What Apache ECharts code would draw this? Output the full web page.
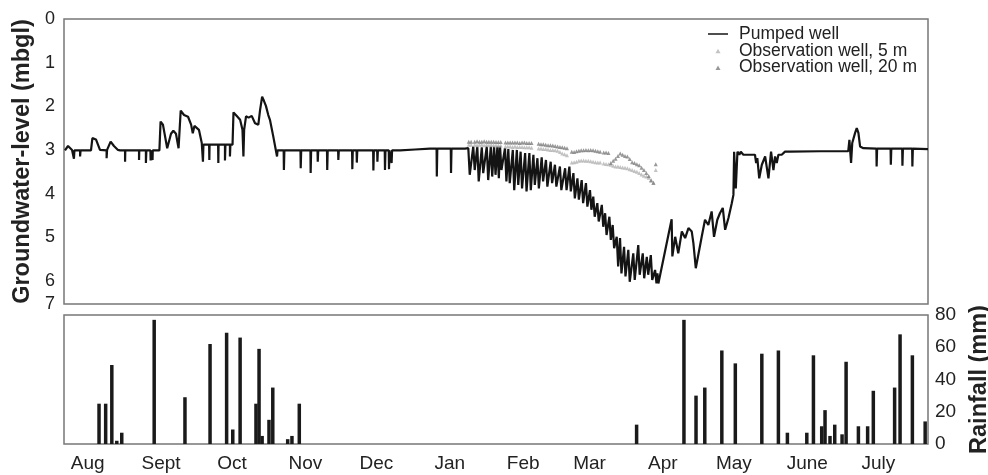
<!DOCTYPE html>
<html>
<head>
<meta charset="utf-8">
<script src="https://cdn.jsdelivr.net/npm/echarts@6/dist/echarts.min.js"></script>
<style>
html,body{margin:0;padding:0;background:#fff;}
#chart{width:988px;height:475px;}
</style>
</head>
<body>
<div id="chart"></div>
<script>
// x values are days since 22 July (start of record)
const monthStartDays = [10, 41, 71, 102, 132, 163, 194, 222, 253, 283, 314, 344];
const monthLabels = ['Aug', 'Sept', 'Oct', 'Nov', 'Dec', 'Jan', 'Feb', 'Mar', 'Apr', 'May', 'June', 'July'];

const levelTickValues = [0, 1, 2, 3, 4, 5, 6, 6.53];
const levelTickLabels = ['0', '1', '2', '3', '4', '5', '6', '7'];
const rainTicks = [0, 20, 40, 60, 80];

// Pumped well groundwater level [day, mbgl]
const pumpedWell = [
[0.4,3.01],[1.7,2.91],[2.5,2.88],[3.4,3.00],[4.0,3.01],[4.2,3.20],[4.4,3.01],
[6.8,3.01],[6.8,3.15],[7.0,3.01],
[11.4,3.01],[12.0,2.73],[13.5,2.76],[15.2,3.00],[15.6,3.02],
[18.0,3.01],[18.0,3.19],[18.2,3.00],[19.7,2.81],[21.1,2.91],[22.8,3.00],[23.7,3.01],
[25.8,3.01],[25.8,3.27],[25.9,3.01],
[31.7,3.01],[31.7,3.23],[31.8,3.01],
[34.6,3.01],[34.6,3.30],[34.8,3.01],
[36.5,3.01],[36.6,3.24],[36.8,3.01],
[37.4,3.01],[37.4,3.23],[37.5,3.01],
[40.3,3.01],[40.8,2.35],[41.8,2.42],[43.6,2.96],[45.2,2.63],[46.2,2.56],[47.3,2.63],[48.4,2.96],
[49.3,2.10],[50.7,2.20],[52.4,2.24],[53.7,2.42],[54.4,2.62],[55.1,2.45],[55.8,2.42],[57.0,2.54],[58.2,2.84],[58.5,2.88],
[58.7,3.27],[58.9,2.88],
[61.3,2.88],[61.4,3.23],[61.5,2.88],
[65.1,2.88],[65.2,3.30],[65.3,2.88],
[68.0,2.88],[68.0,3.24],[68.2,2.88],
[70.1,2.88],[70.1,3.15],[70.3,2.88],
[71.2,2.88],[71.6,2.14],[73.1,2.23],[74.4,2.31],[75.4,2.54],[75.8,3.15],[76.1,2.54],[76.9,2.23],[78.0,2.26],[79.3,2.22],
[80.7,2.39],[82.1,2.42],[82.8,2.10],[83.7,1.78],[84.5,1.88],[85.3,1.99],[86.3,2.20],[87.0,2.31],[88.4,2.69],[89.4,2.98],[90.0,3.15],[90.2,3.01],
[92.8,3.01],[92.9,3.46],[93.1,3.01],
[99.9,3.01],[100.0,3.42],[100.2,3.01],
[104.1,3.01],[104.2,3.53],[104.4,3.01],
[107.1,3.01],[107.2,3.27],[107.4,3.01],
[111.1,3.01],[111.2,3.46],[111.4,3.01],
[115.8,3.01],[115.9,3.23],[116.1,3.01],
[121.7,3.01],[121.8,3.44],[122.0,3.01],
[123.6,3.01],[123.7,3.29],[123.9,3.01],
[130.6,3.01],[130.7,3.47],[130.9,3.01],
[132.3,3.01],[132.4,3.27],[132.6,3.01],
[135.5,3.01],[135.6,3.46],[135.8,3.01],
[137.2,3.01],[137.3,3.44],[137.5,3.01],
[138.3,3.01],[138.4,3.30],[138.6,3.01],
[142.0,3.01],[148.3,2.99],[154.6,2.97],
[157.4,2.97],[157.5,3.61],[157.7,2.97],
[163.4,2.97],[163.5,3.53],[163.7,2.97],
[169.4,2.97],
[170.8,2.96],[171.4,3.57],[172.9,2.92],[173.5,3.46],[174.6,2.92],[175.2,3.72],[176.5,2.94],[177.1,3.53],
[178.6,2.92],[179.2,3.69],[180.3,2.92],[180.9,3.61],[181.7,2.92],[182.3,3.57],[183.1,2.91],[183.7,3.65],
[184.2,2.91],[184.8,3.46],[186.3,2.96],[186.9,3.72],[187.7,2.98],[188.3,3.76],[189.6,3.00],[190.2,3.92],
[191.3,3.00],[191.9,3.80],[192.9,3.04],[193.5,3.88],[194.8,3.07],[195.4,3.95],[196.6,3.07],[197.2,3.92],
[198.3,3.11],[198.9,3.80],[200.0,3.19],[200.6,3.88],[201.8,3.17],[202.4,3.72],[203.6,3.23],[204.2,3.84],
[205.6,3.27],[206.2,3.76],[207.4,3.34],[208.0,3.84],[209.5,3.38],[210.1,3.92],[211.7,3.42],[212.3,3.92],
[213.5,3.38],[214.1,3.95],[215.2,3.53],[215.8,4.11],[216.9,3.65],[217.5,4.14],[218.7,3.69],[219.3,4.22],
[220.5,3.76],[221.1,4.30],[222.2,3.92],[222.8,4.37],[223.6,4.07],[224.2,4.53],[225.3,4.22],[225.9,4.64],
[227.2,4.26],[227.8,4.76],[228.6,4.45],[229.2,4.95],[230.4,4.53],[231.0,5.06],[231.8,4.72],[232.4,5.25],
[233.5,4.99],[234.1,5.67],[234.9,5.02],[235.5,5.83],[236.6,5.22],[237.2,5.90],[238.4,5.29],[239.0,6.02],
[240.5,5.37],[241.1,5.98],[242.6,5.18],[243.2,5.86],[244.5,5.37],[245.1,5.94],[246.2,5.45],[246.8,5.86],
[247.9,5.41],[248.5,5.98],[249.7,5.75],[250.3,6.06],[250.7,5.83],[251.1,6.06],
[256.7,4.59],[257.0,5.44],[258.2,4.99],[259.5,5.37],[261.0,4.87],[262.4,5.02],[263.8,4.79],[265.2,4.87],
[265.9,5.14],[266.9,5.71],[269.4,4.99],[270.8,4.60],[272.2,4.72],[273.6,4.41],[274.6,4.99],[276.0,4.60],
[277.1,4.45],[278.3,4.33],[279.3,4.83],[280.7,4.56],[282.1,4.22],[282.8,4.03],[283.1,3.04],[283.8,3.88],
[284.5,3.04],[285.3,3.11],[285.9,3.04],[287.0,3.11],[291.9,3.11],[292.4,3.30],[292.9,3.19],[293.7,3.65],
[294.8,3.34],[296.2,3.15],[297.6,3.65],[298.7,3.04],[299.7,3.46],[300.4,3.15],[301.1,3.30],[301.8,3.11],
[303.2,3.11],[304.6,3.04],[306.7,3.04],
[319.4,3.03],[331.3,3.03],[331.8,2.77],[332.5,3.30],[333.0,2.84],[334.2,2.61],[334.9,2.50],[335.6,2.61],[336.3,2.92],[337.7,2.96],
[343.2,2.97],[343.3,3.38],[343.5,2.97],
[349.2,2.97],[349.3,3.34],[349.5,2.97],
[354.1,2.97],[354.2,3.36],[354.4,2.97],
[358.3,2.97],[358.4,3.38],[358.6,2.97],
[365.0,2.98]
];

// Observation well, 5 m [day, mbgl]
const obsWell5m = [
[171,2.88],[172,2.88],[173.5,2.88],[174.5,2.89],[175.5,2.88],[176.5,2.88],[177.5,2.89],[178.5,2.88],[179.5,2.89],[180.5,2.88],[181.5,2.89],[182.5,2.89],[183.5,2.89],[184.5,2.90],
[186.5,2.92],[187.5,2.92],[188.5,2.92],[189.5,2.93],[190.5,2.92],[191.5,2.93],[192.5,2.93],[193.5,2.93],[194.5,2.94],[195.5,2.94],[196.5,2.94],[197.5,2.95],
[200.5,2.97],[201.5,2.97],[202.5,2.98],[203.5,2.98],[204.5,2.99],[205.5,3.00],[206.5,3.00],[207.5,3.01],[208.5,3.02],[209.5,3.05],[210.5,3.08],[211.5,3.10],[212.5,3.12],
[214.5,3.29],[215.5,3.28],[216.5,3.27],[217.5,3.25],[218.5,3.24],[219.5,3.24],[220.5,3.25],[221.5,3.25],[222.5,3.26],[223.5,3.27],[224.5,3.28],[225.5,3.29],[226.5,3.29],
[228,3.31],[229,3.32],[230,3.33],[231,3.34],[232,3.36],[233,3.38],[234,3.38],[235,3.39],[236,3.40],[237,3.41],[238,3.42],[239,3.44],[240,3.46],
[241,3.48],[242,3.50],[243,3.53],[244,3.56],[245,3.59],[246,3.61],[247,3.64],[248,3.69],[249,3.76],[250,3.46]
];

// Observation well, 20 m [day, mbgl]
const obsWell20m = [
[171,2.81],[172,2.81],[173.5,2.81],[174.5,2.80],[175.5,2.81],[176.5,2.81],[177.5,2.80],[178.5,2.81],[179.5,2.81],[180.5,2.81],[181.5,2.81],[182.5,2.82],[183.5,2.82],[184.5,2.82],
[186.5,2.83],[187.5,2.83],[188.5,2.83],[189.5,2.83],[190.5,2.83],[191.5,2.83],[192.5,2.84],[193.5,2.83],[194.5,2.83],[195.5,2.84],[196.5,2.84],[197.5,2.84],
[200.5,2.86],[201.5,2.87],[202.5,2.87],[203.5,2.88],[204.5,2.89],[205.5,2.89],[206.5,2.90],[207.5,2.91],[208.5,2.92],[209.5,2.93],[210.5,2.94],[211.5,2.95],[212.5,2.96],
[214.5,3.04],[215.5,3.05],[216.5,3.03],[217.5,3.02],[218.5,3.01],[219.5,3.01],[220.5,3.00],[221.5,3.01],[222.5,3.00],[223.5,3.01],[224.5,3.02],[225.5,3.03],[226.5,3.04],
[228,3.06],[229,3.06],[230,3.07],[231,3.30],[232,3.25],[233,3.20],[234,3.14],[235,3.08],[236,3.11],[237,3.14],[238,3.15],[239,3.21],[240,3.28],
[241,3.30],[242,3.33],[243,3.35],[244,3.41],[245,3.46],[246,3.53],[247,3.60],[248,3.70],[249,3.75],[250,3.33]
];

// Rainfall events
const rainDays = [14.8,17.6,20.2,22.3,24.4,38.1,51.1,61.7,68.7,71.3,74.4,81.1,82.4,83.7,86.6,88.2,94.5,96.3,99.4,
  241.9,261.9,267.0,270.7,277.9,283.6,294.8,301.8,305.6,313.8,316.6,320.1,321.5,323.6,325.6,328.7,330.4,335.6,339.5,341.9,350.9,353.2,358.4,363.8];
const rainMm = [25,25,49,2,7,77,29,62,69,9,66,25,59,5,15,35,3,5,25,
  12,77,30,35,58,50,56,58,7,7,55,11,21,5,12,6,51,11,11,33,35,68,55,14];

const FONT = '"Liberation Sans", Arial, Helvetica, sans-serif';
const TXT = '#222';
const BORDER = '#777';
const LINE_ICON = 'path://M0,0h20v1.6h-20z';
const TRI_ICON = 'path://M0,0M20,5M7.5,5L10,0.6L12.5,5Z';

const chart = echarts.init(document.getElementById('chart'), null, {renderer: 'canvas'});

const option = {
  animation: false,
  backgroundColor: '#fff',
  textStyle: {fontFamily: FONT},
  grid: [
    {left: 64, right: 60, top: 19, height: 285, outerBoundsMode: 'none', containLabel: false,
      show: true, borderColor: BORDER, borderWidth: 1.5, backgroundColor: 'transparent'},
    {left: 64, right: 60, top: 315, height: 129, outerBoundsMode: 'none', containLabel: false,
      show: true, borderColor: BORDER, borderWidth: 1.5, backgroundColor: 'transparent'}
  ],
  legend: {
    orient: 'vertical',
    left: 708,
    top: 25,
    padding: 0,
    itemWidth: 20,
    itemHeight: 5,
    itemGap: -1.3,
    textStyle: {fontFamily: FONT, fontSize: 17.5, color: TXT, padding: [0, 0, 0, 6]},
    data: [
      {name: 'Pumped well', icon: LINE_ICON, itemStyle: {color: '#222'}},
      {name: 'Observation well, 5 m', icon: TRI_ICON},
      {name: 'Observation well, 20 m', icon: TRI_ICON}
    ]
  },
  xAxis: [
    {type: 'value', gridIndex: 0, min: 0, max: 365,
      axisLine: {show: false}, axisTick: {show: false}, axisLabel: {show: false}, splitLine: {show: false}},
    {type: 'value', gridIndex: 1, min: 0, max: 365,
      axisLine: {show: false}, axisTick: {show: false}, splitLine: {show: false},
      axisLabel: {
        customValues: monthStartDays,
        formatter: function (v) { const i = monthStartDays.indexOf(v); return i >= 0 ? monthLabels[i] : ''; },
        fontFamily: FONT, fontSize: 19, color: TXT, margin: 10
      }}
  ],
  yAxis: [
    {type: 'value', gridIndex: 0, inverse: true, min: 0, max: 6.53,
      name: 'Groundwater-level (mbgl)', nameLocation: 'middle', nameGap: 27, nameRotate: 90,
      nameTextStyle: {fontFamily: FONT, fontSize: 23.5, fontWeight: 'bold', color: TXT},
      axisLine: {show: false}, axisTick: {show: false}, splitLine: {show: false},
      axisLabel: {
        customValues: levelTickValues,
        formatter: function (v) { const i = levelTickValues.indexOf(v); return i >= 0 ? levelTickLabels[i] : ''; },
        fontFamily: FONT, fontSize: 18, color: TXT, margin: 9
      }},
    {type: 'value', gridIndex: 1, position: 'right', min: 0, max: 80,
      name: 'Rainfall (mm)', nameLocation: 'middle', nameGap: 38, nameRotate: 90,
      nameTextStyle: {fontFamily: FONT, fontSize: 23.5, fontWeight: 'bold', color: TXT},
      axisLine: {show: false}, axisTick: {show: false}, splitLine: {show: false},
      axisLabel: {customValues: rainTicks, fontFamily: FONT, fontSize: 19, color: TXT, margin: 7}}
  ],
  series: [
    {name: 'Pumped well', type: 'line', xAxisIndex: 0, yAxisIndex: 0,
      data: pumpedWell, showSymbol: false, symbol: 'none',
      lineStyle: {color: '#141414', width: 2.2}, itemStyle: {color: '#141414'}, z: 2},
    {name: 'Observation well, 5 m', type: 'scatter', xAxisIndex: 0, yAxisIndex: 0,
      data: obsWell5m, symbol: 'triangle', symbolSize: 4,
      itemStyle: {color: '#b4b4b4'}, z: 3},
    {name: 'Observation well, 20 m', type: 'scatter', xAxisIndex: 0, yAxisIndex: 0,
      data: obsWell20m, symbol: 'triangle', symbolSize: 4,
      itemStyle: {color: '#7e7e7e'}, z: 3},
    {name: 'Rainfall', type: 'bar', xAxisIndex: 1, yAxisIndex: 1,
      data: rainDays.map(function (d, i) { return [d, rainMm[i]]; }),
      barWidth: 3.5, itemStyle: {color: '#1a1a1a'}}
  ]
};

chart.setOption(option);
</script>
</body>
</html>
